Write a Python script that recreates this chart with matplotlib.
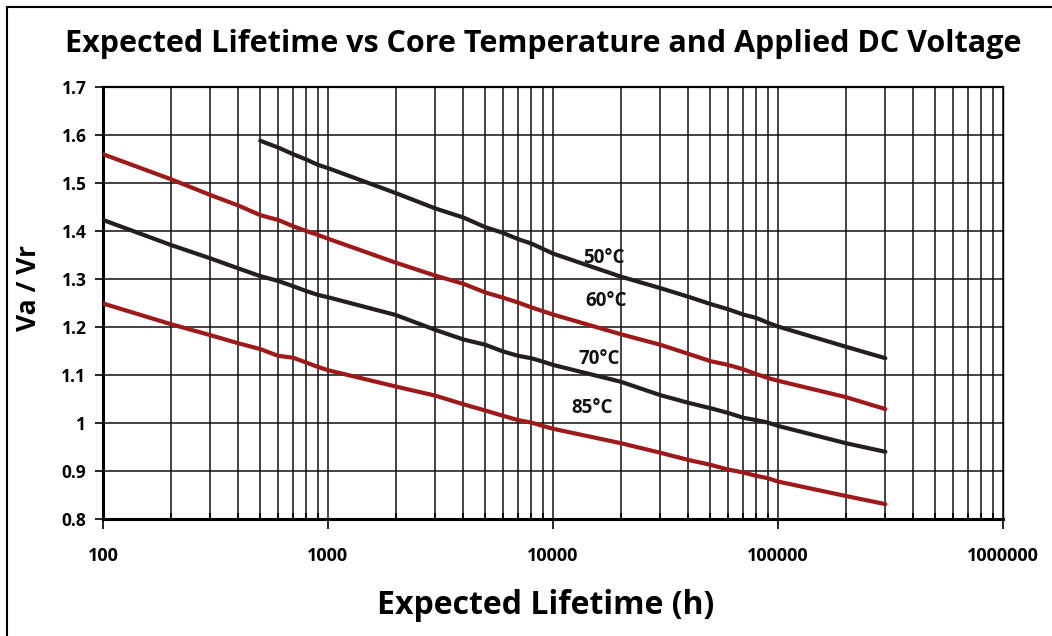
import numpy as np
import matplotlib
matplotlib.use("Agg")
import matplotlib.pyplot as plt
from matplotlib.patches import Rectangle
from matplotlib.ticker import FixedLocator, FuncFormatter

# lifetime points (h): 1..9 steps per decade
hours_full = [100, 200, 300, 400, 500, 600, 700, 800, 900,
              1000, 2000, 3000, 4000, 5000, 6000, 7000, 8000, 9000,
              10000, 20000, 30000, 40000, 50000, 60000, 70000, 80000, 90000,
              100000, 200000, 300000]
hours_50 = hours_full[4:]

v_50c = [1.588, 1.574, 1.560, 1.549, 1.538, 1.531,
         1.479, 1.447, 1.428, 1.408, 1.396, 1.383, 1.374, 1.363, 1.353,
         1.305, 1.281, 1.263, 1.248, 1.237, 1.226, 1.219, 1.209, 1.201,
         1.159, 1.135]
v_60c = [1.560, 1.508, 1.475, 1.453, 1.433, 1.423, 1.410, 1.400, 1.392,
         1.384, 1.334, 1.307, 1.290, 1.272, 1.261, 1.251, 1.241, 1.233,
         1.226, 1.185, 1.163, 1.144, 1.129, 1.121, 1.112, 1.102, 1.094,
         1.088, 1.054, 1.029]
v_70c = [1.423, 1.371, 1.343, 1.322, 1.306, 1.296, 1.285, 1.275, 1.267,
         1.262, 1.225, 1.194, 1.174, 1.163, 1.149, 1.140, 1.135, 1.128,
         1.121, 1.086, 1.058, 1.042, 1.031, 1.021, 1.011, 1.006, 1.001,
         0.994, 0.958, 0.940]
v_85c = [1.249, 1.206, 1.183, 1.166, 1.154, 1.140, 1.136, 1.126, 1.117,
         1.110, 1.076, 1.057, 1.039, 1.026, 1.015, 1.006, 1.001, 0.994,
         0.988, 0.958, 0.938, 0.923, 0.913, 0.903, 0.897, 0.890, 0.885,
         0.878, 0.848, 0.831]

labels = ["50\u00b0C", "60\u00b0C", "70\u00b0C", "85\u00b0C"]
label_x = [16850, 17200, 16090, 14980]
label_y = [1.344, 1.254, 1.133, 1.031]

y_ticks = [0.8, 0.9, 1.0, 1.1, 1.2, 1.3, 1.4, 1.5, 1.6, 1.7]
x_major = [100, 1000, 10000, 100000, 1000000]

BLACK = "#231f20"
RED = "#9e1a1a"
FONT = "Open Sans"

fig = plt.figure(figsize=(10.52, 6.36), dpi=100)
ax = fig.add_axes([103 / 1052, 1 - 519 / 636, 900 / 1052, 432 / 636])

ax.plot(hours_50, v_50c, color=BLACK, lw=3.0, solid_capstyle="round", zorder=3)
ax.plot(hours_full, v_60c, color=RED, lw=3.0, solid_capstyle="round", zorder=3)
ax.plot(hours_full, v_70c, color=BLACK, lw=3.0, solid_capstyle="round", zorder=3)
ax.plot(hours_full, v_85c, color=RED, lw=3.0, solid_capstyle="round", zorder=3)

for txt, lx, ly in zip(labels, label_x, label_y):
    ax.text(lx, ly, txt, ha="center", va="center", fontsize=13.5,
            fontweight="bold", family=FONT, color="#111111", zorder=4)

ax.set_xscale("log")
ax.set_xlim(100, 1000000)
ax.set_ylim(0.8, 1.7)

minor = [m * d for d in [100, 1000, 10000, 100000] for m in range(2, 10)]
ax.xaxis.set_major_locator(FixedLocator(x_major))
ax.xaxis.set_minor_locator(FixedLocator(minor))
ax.xaxis.set_major_formatter(FuncFormatter(lambda v, p: f"{int(round(v))}"))
ax.xaxis.set_minor_formatter(FuncFormatter(lambda v, p: ""))
ax.yaxis.set_major_locator(FixedLocator(y_ticks))
ax.yaxis.set_major_formatter(FuncFormatter(lambda v, p: f"{v:g}"))

ax.grid(True, which="major", color="#111111", lw=1.1, zorder=1)
ax.grid(True, which="minor", axis="x", color="#111111", lw=1.1, zorder=1)

ax.tick_params(axis="x", which="major", direction="out", length=7, width=1.2,
               pad=13, labelsize=13)
ax.tick_params(axis="x", which="minor", direction="in", length=4, width=1.2)
ax.tick_params(axis="y", which="major", direction="out", length=6, width=1.2,
               pad=6, labelsize=12.5)
for lab in ax.get_xticklabels() + ax.get_yticklabels():
    lab.set_fontweight("bold")
    lab.set_family(FONT)

ax.spines["left"].set_linewidth(2.2)
ax.spines["bottom"].set_linewidth(2.2)
ax.spines["top"].set_linewidth(1.6)
ax.spines["right"].set_linewidth(1.0)

fig.text(543 / 1052, 1 - 44 / 636,
         "Expected Lifetime vs Core Temperature and Applied DC Voltage",
         ha="center", va="center", fontsize=22, fontweight="bold", family=FONT)
fig.text(546 / 1052, 1 - 605 / 636, "Expected Lifetime (h)",
         ha="center", va="center", fontsize=23, fontweight="bold", family=FONT)
fig.text(28 / 1052, 1 - 288 / 636, "Va / Vr", rotation=90,
         ha="center", va="center", fontsize=19, fontweight="bold", family=FONT)

# outer frame around the whole chart
fig.patches.append(Rectangle((7 / 1052, -0.1), 1.2, 1.1 - 7 / 636,
                             transform=fig.transFigure, fill=False,
                             edgecolor="black", lw=1.5))

fig.savefig("out.png", dpi=100)
